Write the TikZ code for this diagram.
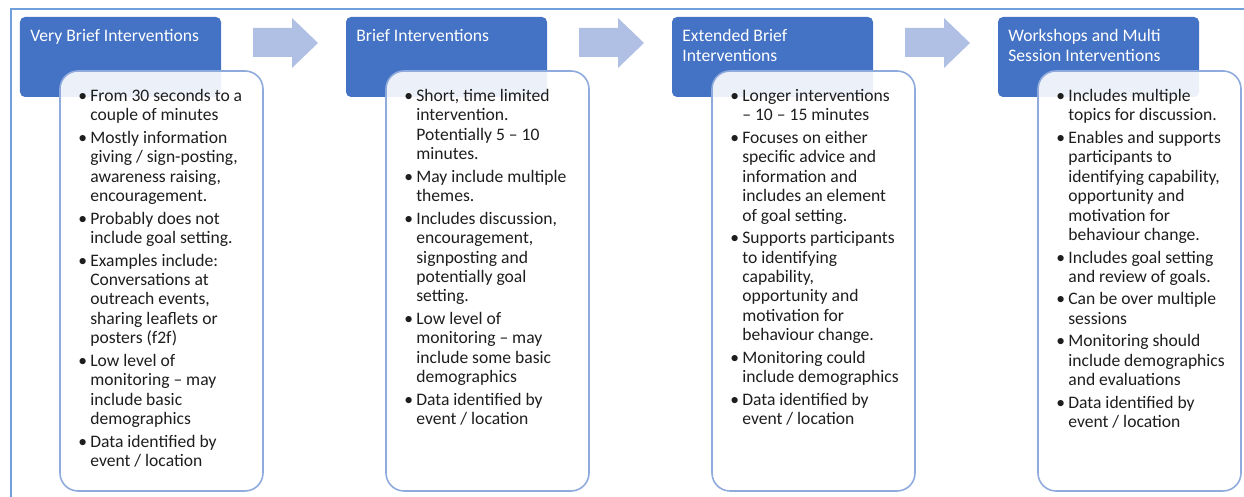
\documentclass[tikz,border=0pt]{standalone}
\usepackage{fontspec}
\setmainfont{Carlito}
\usepackage{tikz}
\definecolor{hdblue}{HTML}{4472C4}
\definecolor{bodyline}{HTML}{8FAADC}
\definecolor{arrowblue}{HTML}{B0C0E4}
\definecolor{frameblue}{HTML}{6FA0DA}
\definecolor{textdark}{HTML}{1E1E1E}
\tikzset{
  headbox/.style={fill=hdblue, rounded corners=0.1cm},
  bodybox/.style={fill=white, fill opacity=0.9, draw=bodyline, line width=0.9pt, rounded corners=0.36cm},
  headtext/.style={anchor=base west, inner sep=0pt, text=white, font=\fontsize{10}{11.4}\selectfont},
  bodytext/.style={anchor=base west, inner sep=0pt, text=textdark, font=\fontsize{10}{11.04}\selectfont},
}

\begin{document}
\begin{tikzpicture}[x=1cm,y=1cm]
  \useasboundingbox (0,0) rectangle (24.88,9.94);
  % frame
  \draw[frameblue, line width=1.2pt] (0.22,0) |- (24.88,9.76);
  % stage boxes
  \foreach \i in {0,...,3} {
    \fill[headbox] ({0.40+6.52*\i},8.00) rectangle ++(4.02,1.60);
    \draw[bodybox] ({1.20+6.52*\i},0.12) rectangle ++(4.06,8.40);
  }
  % block arrows
  \foreach \i in {0,1,2}
    \fill[arrowblue, xshift={6.52cm*\i}] (5.06,9.38) -- (5.84,9.38) -- (5.84,9.58) -- (6.36,9.08)
      -- (5.84,8.58) -- (5.84,8.80) -- (5.06,8.80) -- cycle;

  \node[headtext] (h1) at (0.60,9.11) {Very Brief Interventions};
  \node[headtext] (h2) at (7.12,9.11) {Brief Interventions};
  \node[headtext] (h3) at (13.64,9.11) {\begin{tabular}[t]{@{}l@{}}Extended Brief\\ Interventions\end{tabular}};
  \node[headtext] (h4) at (20.16,9.11) {\begin{tabular}[t]{@{}l@{}}Workshops and Multi\\ Session Interventions\end{tabular}};

  \node[bodytext] (b1) at (1.56,7.91) {\begin{tabular}[t]{@{}p{0.24cm}@{}l@{}}
    \textbullet & From 30 seconds to a\\ & couple of minutes\\[1.8pt]
    \textbullet & Mostly information\\ & giving / sign-posting,\\ & awareness raising,\\ & encouragement.\\[1.8pt]
    \textbullet & Probably does not\\ & include goal setting.\\[1.8pt]
    \textbullet & Examples include:\\ & Conversations at\\ & outreach events,\\ & sharing leaflets or\\ & posters (f2f)\\[1.8pt]
    \textbullet & Low level of\\ & monitoring – may\\ & include basic\\ & demographics\\[1.8pt]
    \textbullet & Data identified by\\ & event / location
  \end{tabular}};
  \node[bodytext] (b2) at (8.08,7.91) {\begin{tabular}[t]{@{}p{0.24cm}@{}l@{}}
    \textbullet & Short, time limited\\ & intervention.\\ & Potentially 5 – 10\\ & minutes.\\[1.8pt]
    \textbullet & May include multiple\\ & themes.\\[1.8pt]
    \textbullet & Includes discussion,\\ & encouragement,\\ & signposting and\\ & potentially goal\\ & setting.\\[1.8pt]
    \textbullet & Low level of\\ & monitoring – may\\ & include some basic\\ & demographics\\[1.8pt]
    \textbullet & Data identified by\\ & event / location
  \end{tabular}};
  \node[bodytext] (b3) at (14.60,7.91) {\begin{tabular}[t]{@{}p{0.24cm}@{}l@{}}
    \textbullet & Longer interventions\\ & – 10 – 15 minutes\\[1.8pt]
    \textbullet & Focuses on either\\ & specific advice and\\ & information and\\ & includes an element\\ & of goal setting.\\[1.8pt]
    \textbullet & Supports participants\\ & to identifying\\ & capability,\\ & opportunity and\\ & motivation for\\ & behaviour change.\\[1.8pt]
    \textbullet & Monitoring could\\ & include demographics\\[1.8pt]
    \textbullet & Data identified by\\ & event / location
  \end{tabular}};
  \node[bodytext] (b4) at (21.12,7.91) {\begin{tabular}[t]{@{}p{0.24cm}@{}l@{}}
    \textbullet & Includes multiple\\ & topics for discussion.\\[1.8pt]
    \textbullet & Enables and supports\\ & participants to\\ & identifying capability,\\ & opportunity and\\ & motivation for\\ & behaviour change.\\[1.8pt]
    \textbullet & Includes goal setting\\ & and review of goals.\\[1.8pt]
    \textbullet & Can be over multiple\\ & sessions\\[1.8pt]
    \textbullet & Monitoring should\\ & include demographics\\ & and evaluations\\[1.8pt]
    \textbullet & Data identified by\\ & event / location
  \end{tabular}};
\end{tikzpicture}
\end{document}
